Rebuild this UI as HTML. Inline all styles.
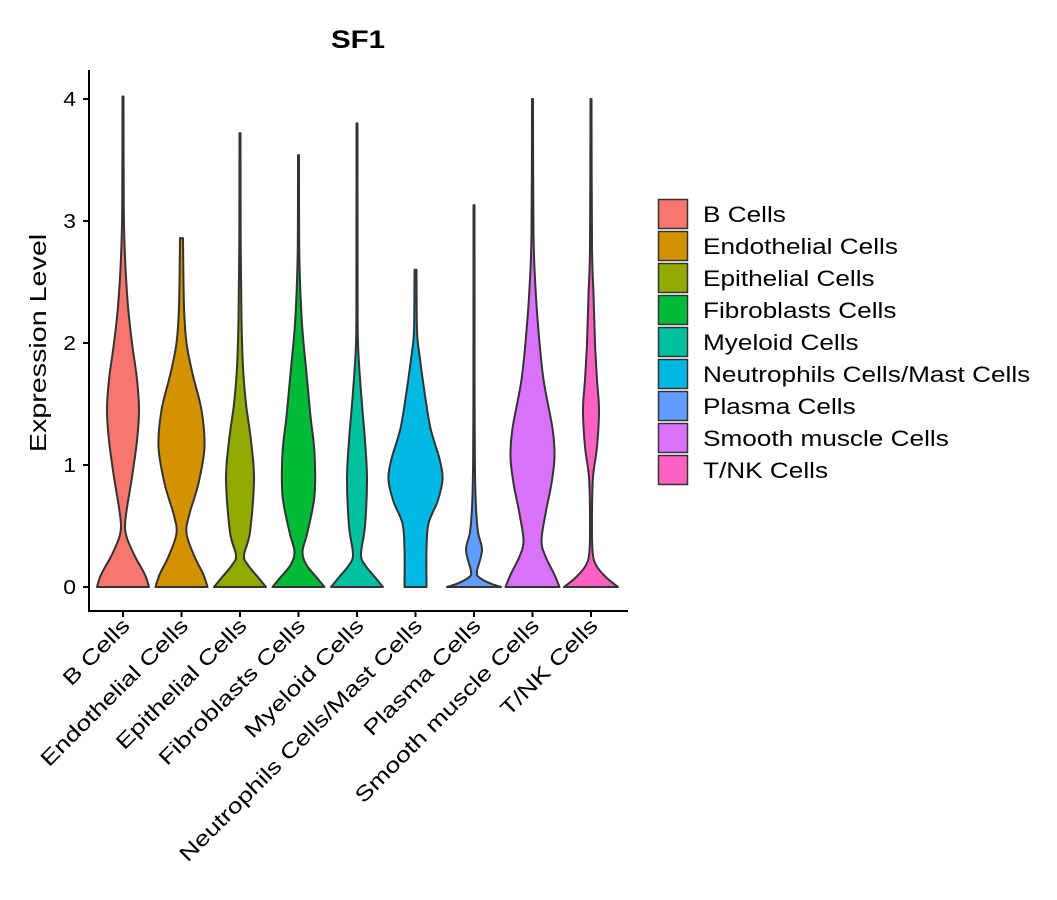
<!DOCTYPE html>
<html><head><meta charset="utf-8"><style>
body{margin:0;background:#fff;}
svg{display:block;font-family:"Liberation Sans","DejaVu Sans",sans-serif;}
</style></head><body>
<svg id="chart" width="1057" height="900" viewBox="0 0 1057 900" xmlns="http://www.w3.org/2000/svg">
<text transform="translate(358,48) scale(1.18,1)" text-anchor="middle" font-size="25" font-weight="bold">SF1</text>
<text transform="translate(46,343) rotate(-90) scale(1.22,1)" text-anchor="middle" font-size="23.5">Expression Level</text>
<g id="violins"></g>
<g id="axes"></g>
<g id="legend"></g>
</svg>
<script>
const categories=["B Cells","Endothelial Cells","Epithelial Cells","Fibroblasts Cells","Myeloid Cells","Neutrophils Cells/Mast Cells","Plasma Cells","Smooth muscle Cells","T/NK Cells"];
const colors=["#F8766D","#D39200","#93AA00","#00BA38","#00C19F","#00B9E3","#619CFF","#DB72FB","#FF61C3"];
const yTicks=[0,1,2,3,4];
const bCells=[[0,26],[0.1,22],[0.25,12],[0.4,4],[0.5,2],[0.65,4],[0.9,9],[1.2,14],[1.45,16],[1.7,14],[2.0,9],[2.3,5],[2.7,2],[3.1,0.8],[4.02,0.5]];
const endothelial=[[0,26],[0.1,22],[0.25,13],[0.44,5],[0.6,8],[0.85,17],[1.15,23],[1.45,20],[1.75,11],[2.0,5],[2.3,2.5],[2.86,1.5]];
const epithelial=[[0,26],[0.08,18],[0.18,8],[0.26,4],[0.45,10],[0.88,14],[1.2,11],[1.5,6],[1.8,3],[2.2,1.5],[2.8,0.7],[3.72,0.5]];
const fibroblasts=[[0,26],[0.08,18],[0.18,8],[0.29,4],[0.45,9],[0.75,16],[1.1,16],[1.4,12],[1.75,8],[2.1,4],[2.4,2],[2.8,0.7],[3.54,0.5]];
const myeloid=[[0,26],[0.08,18],[0.18,8],[0.27,4],[0.5,8],[0.88,10],[1.2,8],[1.6,4],[2.0,1],[2.5,0.6],[3.8,0.5]];
const neutrophils=[[0,11],[0.3,11],[0.52,13],[0.7,22],[0.88,27],[1.05,24],[1.3,15],[1.6,9],[1.9,4],[2.1,1.5],[2.6,1]];
const plasma=[[0,27],[0.03,16],[0.08,5],[0.13,3],[0.3,8],[0.45,4],[0.65,2],[0.95,1],[1.5,0.6],[3.13,0.5]];
const smoothMuscle=[[0,27],[0.1,22],[0.25,13],[0.38,9],[0.6,13],[0.85,19],[1.07,22],[1.3,20],[1.7,11],[2.1,6],[2.45,3],[2.9,1],[4.0,0.5]];
const tnk=[[0,27],[0.08,15],[0.18,5],[0.3,1.5],[0.6,1],[0.9,2],[1.15,6],[1.45,8],[1.7,6],[2.0,4],[2.4,2.5],[2.8,1],[4.0,0.5]];
const profiles=[bCells,endothelial,epithelial,fibroblasts,myeloid,neutrophils,plasma,smoothMuscle,tnk];

const NS="http://www.w3.org/2000/svg";
const yS=v=>587-v*122;
const xS=i=>123+i*58.5;
const wS=d=>d*1.0;
function mk(t,a,p){const e=document.createElementNS(NS,t);for(const k in a)e.setAttribute(k,a[k]);p.appendChild(e);return e;}
function side(pts){
  let d="";
  for(let i=0;i<pts.length-1;i++){
    const p0=pts[Math.max(0,i-1)],p1=pts[i],p2=pts[i+1],p3=pts[Math.min(pts.length-1,i+2)];
    const c1=[p1[0]+(p2[0]-p0[0])/6,p1[1]+(p2[1]-p0[1])/6];
    const c2=[p2[0]-(p3[0]-p1[0])/6,p2[1]-(p3[1]-p1[1])/6];
    d+=` C${c1[0].toFixed(2)},${c1[1].toFixed(2)} ${c2[0].toFixed(2)},${c2[1].toFixed(2)} ${p2[0].toFixed(2)},${p2[1].toFixed(2)}`;
  }
  return d;
}
const gv=document.getElementById('violins');
profiles.forEach((prof,i)=>{
  const cx=xS(i);
  const right=prof.map(p=>[cx+wS(p[1]),yS(p[0])]);
  const left=prof.slice().reverse().map(p=>[cx-wS(p[1]),yS(p[0])]);
  let d=`M${left[left.length-1][0]},${left[left.length-1][1]} L${right[0][0]},${right[0][1]}`+side(right)+` L${left[0][0]},${left[0][1]}`+side(left)+" Z";
  const el=mk('path',{d:d,fill:colors[i],stroke:"#333",'stroke-width':2,'stroke-linejoin':'round'},gv);
  
  
});
const ga=document.getElementById('axes');
const xl=mk('line',{x1:89,y1:611,x2:628,y2:611,stroke:"#000",'stroke-width':2},ga);


const yl=mk('line',{x1:89,y1:70,x2:89,y2:612,stroke:"#000",'stroke-width':2},ga);


yTicks.forEach(v=>{
  mk('line',{x1:83,y1:yS(v),x2:89,y2:yS(v),stroke:"#000",'stroke-width':2},ga);
  const t=mk('text',{transform:`translate(76,${yS(v)+7}) scale(1.12,1)`,'text-anchor':'end','font-size':20.5},ga);
  t.textContent=v;
  
  
});
categories.forEach((c,i)=>{
  const x=xS(i);
  mk('line',{x1:x,y1:611,x2:x,y2:617,stroke:"#000",'stroke-width':2},ga);
  const t=mk('text',{transform:`translate(${x+8},${627}) rotate(-45) scale(1.27,1)`,'text-anchor':'end','font-size':21},ga);
  t.textContent=c;
  
  
});
const gl=document.getElementById('legend');
categories.forEach((c,i)=>{
  const y=214+i*32;
  const g=mk('g',{},gl);
  
  
  mk('rect',{x:658.5,y:y-14.5,width:29,height:29,fill:colors[i],stroke:"#333",'stroke-width':1.5},g);
  const t=mk('text',{transform:`translate(703,${y+8}) scale(1.19,1)`,'font-size':22},g);
  t.textContent=c;
});
</script>
</body></html>
